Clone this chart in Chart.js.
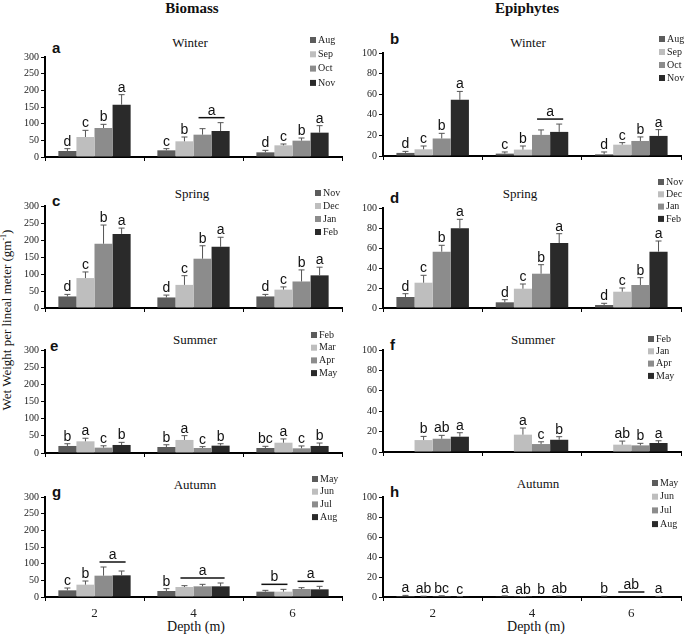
<!DOCTYPE html>
<html>
<head>
<meta charset="utf-8">
<script src="https://cdn.jsdelivr.net/npm/chart.js@4.4.0/dist/chart.umd.min.js"></script>
<style>
  body { margin: 0; background: #fff; }
  #page { position: relative; width: 685px; height: 638px; overflow: hidden; font-family: "Liberation Serif", serif; color: #111; }
  canvas { position: absolute; left: 0; top: 0; }
  .c { position: absolute; white-space: nowrap; transform: translate(-50%, -50%); line-height: 1; }
  .head { font-weight: bold; font-size: 15px; }
  .season { font-size: 13px; }
  .tag { position: absolute; font-family: "Liberation Sans", sans-serif; font-weight: bold; font-size: 15px; line-height: 1; }
  .depth { font-size: 14px; }
  #ylab { position: absolute; left: 7px; top: 320px; transform: translate(-50%, -50%) rotate(-90deg); white-space: nowrap; font-size: 13px; }
  #ylab sup { font-size: 8px; }
</style>
</head>
<body>
<div id="page">
  <div class="c head" style="left:192px;top:8px">Biomass</div>
  <div class="c head" style="left:527px;top:8px">Epiphytes</div>

  <div class="c season" style="left:190px;top:42px">Winter</div>
  <div class="c season" style="left:528px;top:42px">Winter</div>
  <div class="c season" style="left:192px;top:193px">Spring</div>
  <div class="c season" style="left:520px;top:193px">Spring</div>
  <div class="c season" style="left:195px;top:339px">Summer</div>
  <div class="c season" style="left:533px;top:339px">Summer</div>
  <div class="c season" style="left:195px;top:484px">Autumn</div>
  <div class="c season" style="left:538px;top:483px">Autumn</div>

  <div class="tag" style="left:52px;top:40px">a</div>
  <div class="tag" style="left:390px;top:31px">b</div>
  <div class="tag" style="left:52px;top:193px">c</div>
  <div class="tag" style="left:390px;top:190px">d</div>
  <div class="tag" style="left:50px;top:338px">e</div>
  <div class="tag" style="left:390px;top:337px">f</div>
  <div class="tag" style="left:52px;top:484px">g</div>
  <div class="tag" style="left:390px;top:484px">h</div>

  <div id="ylab">Wet Weight per lineal meter (gm<sup>-1</sup>)</div>
  <div class="c depth" style="left:196px;top:627px">Depth (m)</div>
  <div class="c depth" style="left:536px;top:627px">Depth (m)</div>
</div>

<script>
// x categories and y tick labels
var depths = ['2', '4', '6'];
var biomassTicks = [0, 50, 100, 150, 200, 250, 300];
var epiphyteTicks = [0, 20, 40, 60, 80, 100];

var winterMonths = ['Aug', 'Sep', 'Oct', 'Nov'];
var springMonths = ['Nov', 'Dec', 'Jan', 'Feb'];
var summerMonths = ['Feb', 'Mar', 'Apr', 'May'];
var summerMonthsEpi = ['Feb', 'Jan', 'Apr', 'May']; // as printed in the original legend
var autumnMonths = ['May', 'Jun', 'Jul', 'Aug'];

// means: one row per month, columns = depth 2, 4, 6
// se: upper error bar length; letters: one row per depth, one per month
// groups: [depth index, first month, last month, letter] shared under a line

var winterBiomass   = [[18, 20, 14], [60, 47, 35], [87, 67, 49], [157, 78, 73]];
var winterBiomassSE = [[7, 5, 6], [20, 13, 4], [11, 18, 8], [30, 25, 21]];
var winterBiomassLetters = [['d', 'c', 'b', 'a'], ['c', 'b', '', ''], ['d', 'c', 'b', 'a']];
var winterBiomassGroups = [[1, 2, 3, 'a']];

var winterEpi   = [[3, 2.3, 1.6], [6.5, 6.2, 11], [17, 20.5, 14.6], [54.5, 23.4, 19.5]];
var winterEpiSE = [[1.5, 1.6, 2.3], [3.2, 3.5, 2], [5, 4.8, 3.9], [8.2, 7.6, 6.1]];
var winterEpiLetters = [['d', 'c', 'b', 'a'], ['c', 'b', '', ''], ['d', 'c', 'b', 'a']];
var winterEpiGroups = [[1, 2, 3, 'a']];

var springBiomass   = [[34, 31, 34], [88, 68, 54], [189, 145, 78], [218, 180, 96]];
var springBiomassSE = [[6, 7, 6], [18, 27, 8], [55, 38, 34], [17, 28, 24]];
var springBiomassLetters = [['d', 'c', 'b', 'a'], ['d', 'c', 'b', 'a'], ['d', 'c', 'b', 'a']];

var springEpi   = [[11, 5.7, 3], [25.3, 19.3, 16.3], [56.3, 34.3, 23], [79.7, 65, 56.3]];
var springEpiSE = [[3.3, 2.6, 1.7], [7.4, 4.7, 3.7], [6.4, 9, 7.3], [9, 9.3, 10.7]];
var springEpiLetters = [['d', 'c', 'b', 'a'], ['d', 'c', 'b', 'a'], ['d', 'c', 'b', 'a']];

var summerBiomass   = [[20.5, 17.5, 14.6], [34, 38, 30], [15.6, 14.6, 13.6], [23.4, 21.4, 20.5]];
var summerBiomassSE = [[6.5, 6.5, 4.9], [9, 12.6, 11], [5.4, 3.9, 6.9], [7.6, 5.6, 8.5]];
var summerBiomassLetters = [['b', 'a', 'c', 'b'], ['b', 'a', 'c', 'b'], ['bc', 'a', 'c', 'b']];

var summerEpi   = [[0, 0, 0], [11.7, 17, 7.2], [13, 7.8, 6.5], [15, 12, 8.8]];
var summerEpiSE = [[0, 0, 0], [3.6, 6.5, 3.5], [3.3, 2.2, 2], [3.9, 3, 2.2]];
var summerEpiLetters = [['', 'b', 'ab', 'a'], ['', 'a', 'c', 'b'], ['', 'ab', 'b', 'a']];

var autumnBiomass   = [[20, 18, 16], [37, 30, 16], [64, 32, 24], [65, 32, 23]];
var autumnBiomassSE = [[7, 7, 4], [11, 4, 7], [26, 6, 4], [13, 10, 9]];
var autumnBiomassLetters = [['c', 'b', '', ''], ['b', '', '', ''], ['', '', '', '']];
var autumnBiomassGroups = [[0, 2, 3, 'a'], [1, 1, 3, 'a'], [2, 0, 1, 'b'], [2, 2, 3, 'a']];

var autumnEpi   = [[1, 0.7, 0.5], [0.5, 0.3, 0], [0.8, 0, 0], [0.3, 0.6, 0.4]];
var autumnEpiSE = [[0.6, 0.4, 0.3], [0.3, 0.2, 0], [0.4, 0, 0], [0.2, 0.3, 0.2]];
var autumnEpiLetters = [['a', 'ab', 'bc', 'c'], ['a', 'ab', 'b', 'ab'], ['b', '', '', 'a']];
var autumnEpiGroups = [[2, 1, 2, 'ab']];

var barColors = ['#5c5c5c', '#bebebe', '#8c8c8c', '#2a2a2a'];

// box = [left, right, top, bottom] of the plot area, legend = [x, first y, step]
var panels = [
    { months: winterMonths, mean: winterBiomass, se: winterBiomassSE, letters: winterBiomassLetters, groups: winterBiomassGroups, ticks: biomassTicks, box: [45, 342, 57, 157], legend: [310, 40, 14.3] },
    { months: winterMonths, mean: winterEpi, se: winterEpiSE, letters: winterEpiLetters, groups: winterEpiGroups, ticks: epiphyteTicks, box: [383, 681, 53, 156], legend: [659, 39, 13] },
    { months: springMonths, mean: springBiomass, se: springBiomassSE, letters: springBiomassLetters, groups: [], ticks: biomassTicks, box: [45, 342, 206, 308], legend: [315, 193, 13] },
    { months: springMonths, mean: springEpi, se: springEpiSE, letters: springEpiLetters, groups: [], ticks: epiphyteTicks, box: [383, 681, 208, 308], legend: [658, 182, 12.3] },
    { months: summerMonths, mean: summerBiomass, se: summerBiomassSE, letters: summerBiomassLetters, groups: [], ticks: biomassTicks, box: [45, 342, 350, 453], legend: [311, 335, 12.7] },
    { months: summerMonthsEpi, mean: summerEpi, se: summerEpiSE, letters: summerEpiLetters, groups: [], ticks: epiphyteTicks, box: [383, 681, 350, 452], legend: [648, 339, 12.3] },
    { months: autumnMonths, mean: autumnBiomass, se: autumnBiomassSE, letters: autumnBiomassLetters, groups: autumnBiomassGroups, ticks: biomassTicks, box: [45, 342, 497, 597], legend: [312, 479, 12.7], xLabels: true },
    { months: autumnMonths, mean: autumnEpi, se: autumnEpiSE, letters: autumnEpiLetters, groups: autumnEpiGroups, ticks: epiphyteTicks, box: [383, 681, 497, 597], legend: [652, 483, 13.7], xLabels: true }
];

var W = 685, H = 638, AXIS_W = 40, AXIS_H = 25;

function makePanel(p) {
    var canvas = document.createElement('canvas');
    canvas.width = W;
    canvas.height = H;
    document.getElementById('page').appendChild(canvas);

    // error bars, significance letters and the small legend
    var extras = {
        id: 'extras',
        afterDatasetsDraw: function (chart) {
            var ctx = chart.ctx;
            var y = chart.scales.y;
            var tops = [];
            ctx.save();
            ctx.strokeStyle = '#555';
            ctx.lineWidth = 1;
            p.mean.forEach(function (row, i) {
                tops.push([]);
                var meta = chart.getDatasetMeta(i);
                row.forEach(function (v, j) {
                    var bar = meta.data[j];
                    var yTop = y.getPixelForValue(v + p.se[i][j]);
                    tops[i].push(yTop);
                    if (p.se[i][j] > 0) {
                        ctx.beginPath();
                        ctx.moveTo(bar.x, bar.y);
                        ctx.lineTo(bar.x, yTop);
                        ctx.moveTo(bar.x - 3, yTop);
                        ctx.lineTo(bar.x + 3, yTop);
                        ctx.stroke();
                    }
                });
            });

            ctx.fillStyle = '#111';
            ctx.font = '14px "Liberation Sans", sans-serif';
            ctx.textAlign = 'center';
            ctx.textBaseline = 'alphabetic';
            p.letters.forEach(function (row, j) {
                row.forEach(function (txt, i) {
                    if (!txt) return;
                    var bar = chart.getDatasetMeta(i).data[j];
                    ctx.fillText(txt, bar.x, tops[i][j] - 3);
                });
            });

            ctx.strokeStyle = '#111';
            ctx.lineWidth = 1.5;
            p.groups.forEach(function (g) {
                var j = g[0];
                var first = chart.getDatasetMeta(g[1]).data[j];
                var last = chart.getDatasetMeta(g[2]).data[j];
                var top = Infinity;
                for (var i = g[1]; i <= g[2]; i++) top = Math.min(top, tops[i][j]);
                var ly = top - 5;
                var x1 = first.x - 4, x2 = last.x + 4;
                ctx.beginPath();
                ctx.moveTo(x1, ly);
                ctx.lineTo(x2, ly);
                ctx.stroke();
                ctx.fillText(g[3], (x1 + x2) / 2, ly - 3);
            });

            ctx.font = '10px "Liberation Serif", serif';
            ctx.textAlign = 'left';
            ctx.textBaseline = 'middle';
            p.months.forEach(function (m, i) {
                var ly = p.legend[1] + i * p.legend[2];
                ctx.fillStyle = barColors[i];
                ctx.fillRect(p.legend[0], ly - 3, 6, 6);
                ctx.fillStyle = '#222';
                ctx.fillText(m, p.legend[0] + 8, ly);
            });
            ctx.restore();
        }
    };

    new Chart(canvas, {
        type: 'bar',
        data: {
            labels: depths,
            datasets: p.months.map(function (m, i) {
                return {
                    label: m,
                    data: p.mean[i],
                    backgroundColor: barColors[i],
                    borderWidth: 0,
                    categoryPercentage: 0.73,
                    barPercentage: 1
                };
            })
        },
        options: {
            responsive: false,
            animation: false,
            devicePixelRatio: 1,
            layout: {
                padding: {
                    left: p.box[0] - AXIS_W,
                    right: W - p.box[1],
                    top: p.box[2],
                    bottom: H - p.box[3] - AXIS_H
                }
            },
            plugins: {
                legend: { display: false },
                tooltip: { enabled: false }
            },
            scales: {
                x: {
                    offset: true,
                    grid: { offset: true, drawOnChartArea: false, color: '#000', tickLength: 4 },
                    border: { color: '#000', width: 2 },
                    ticks: {
                        display: !!p.xLabels,
                        color: '#222',
                        padding: 5,
                        font: { family: '"Liberation Serif", serif', size: 13 }
                    },
                    afterFit: function (s) { s.height = AXIS_H; }
                },
                y: {
                    min: 0,
                    max: p.ticks[p.ticks.length - 1],
                    afterBuildTicks: function (s) {
                        s.ticks = p.ticks.map(function (v) { return { value: v }; });
                    },
                    grid: { drawOnChartArea: false, color: '#000', tickLength: 4 },
                    border: { color: '#000', width: 2 },
                    ticks: {
                        color: '#222',
                        padding: 2,
                        font: { family: '"Liberation Serif", serif', size: 10 }
                    },
                    afterFit: function (s) { s.width = AXIS_W; }
                }
            }
        },
        plugins: [extras]
    });
}

panels.forEach(makePanel);
</script>
</body>
</html>
